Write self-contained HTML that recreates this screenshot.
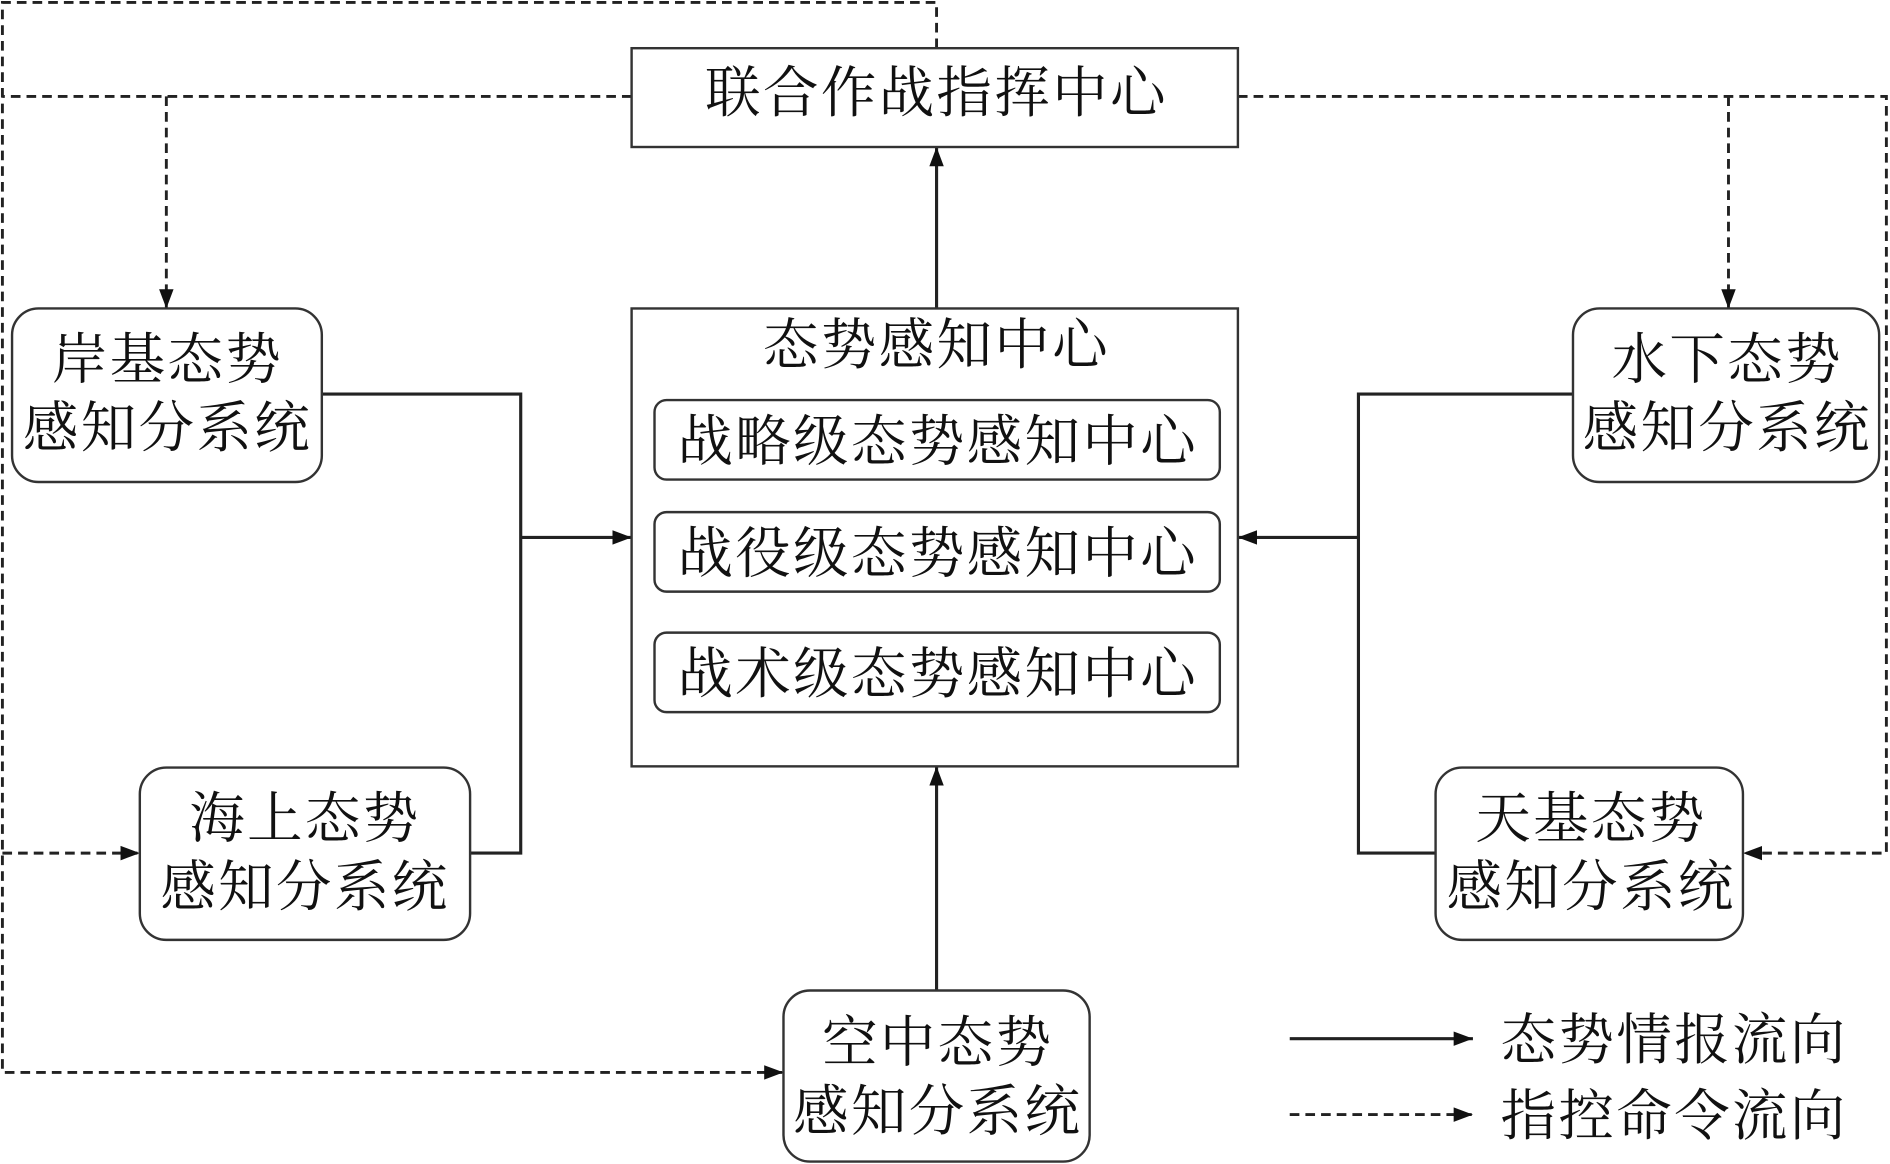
<!DOCTYPE html>
<html><head><meta charset="utf-8"><style>
html,body{margin:0;padding:0;background:#fff;}
svg{display:block;}
text{font-family:"Liberation Serif","Noto Serif CJK SC","Noto Sans CJK SC",serif;fill:#111;}
</style></head><body>
<svg width="1890" height="1164" viewBox="0 0 1568 966" preserveAspectRatio="none" xmlns="http://www.w3.org/2000/svg">
<defs>
<marker id="b" markerWidth="16" markerHeight="14" refX="16" refY="7" orient="auto" markerUnits="userSpaceOnUse" viewBox="0 0 16 14">
<path d="M0,1 L16,7 L0,13 z" fill="#111"/></marker>
</defs>
<g fill="none" stroke="#222" stroke-width="2.4" stroke-dasharray="8,5">
<path d="M777,40 L777,2 L2,2 L2,890 L650,890" marker-end="url(#b)"/>
<path d="M524,80 L2,80"/>
<path d="M138,80 L138,256" marker-end="url(#b)"/>
<path d="M2,708 L116,708" marker-end="url(#b)"/>
<path d="M1027,80 L1565,80 L1565,708 L1446,708" marker-end="url(#b)"/>
<path d="M1434,80 L1434,256" marker-end="url(#b)"/>
<path d="M1070,925 L1222,925" marker-end="url(#b)"/>
</g>
<g fill="none" stroke="#222" stroke-width="2.6">
<path d="M267,327 L432,327 L432,708 L390,708"/>
<path d="M432,446 L524,446" marker-end="url(#b)"/>
<path d="M1305,327 L1127,327 L1127,708 L1191,708"/>
<path d="M1127,446 L1027,446" marker-end="url(#b)"/>
<path d="M777,256 L777,122" marker-end="url(#b)"/>
<path d="M777,822 L777,636" marker-end="url(#b)"/>
<path d="M1070,862 L1222,862" marker-end="url(#b)"/>
</g>
<g fill="#fff" stroke="#333" stroke-width="2">
<rect x="524" y="40" width="503" height="82"/>
<rect x="524" y="256" width="503" height="380"/>
<rect x="543" y="332" width="469" height="66" rx="10"/>
<rect x="543" y="425" width="469" height="66" rx="10"/>
<rect x="543" y="525" width="469" height="66" rx="10"/>
<rect x="10" y="256" width="257" height="144" rx="22"/>
<rect x="116" y="637" width="274" height="143" rx="22"/>
<rect x="650" y="822" width="254" height="142" rx="22"/>
<rect x="1191" y="637" width="255" height="143" rx="22"/>
<rect x="1305" y="256" width="254" height="144" rx="22"/>
</g>
<g font-size="46" text-anchor="middle" letter-spacing="2">
<text x="777" y="93">联合作战指挥中心</text>
<text x="777" y="302">态势感知中心</text>
<text x="778" y="382">战略级态势感知中心</text>
<text x="778" y="475">战役级态势感知中心</text>
<text x="778" y="575">战术级态势感知中心</text>
<text x="139" y="314">岸基态势</text>
<text x="139" y="371">感知分系统</text>
<text x="253" y="695">海上态势</text>
<text x="253" y="752">感知分系统</text>
<text x="778" y="881">空中态势</text>
<text x="778" y="938">感知分系统</text>
<text x="1320" y="695">天基态势</text>
<text x="1320" y="752">感知分系统</text>
<text x="1433" y="314">水下态势</text>
<text x="1433" y="371">感知分系统</text>
</g>
<g font-size="46" letter-spacing="2">
<text x="1245" y="879">态势情报流向</text>
<text x="1245" y="942">指控命令流向</text>
</g>
</svg>
</body></html>
